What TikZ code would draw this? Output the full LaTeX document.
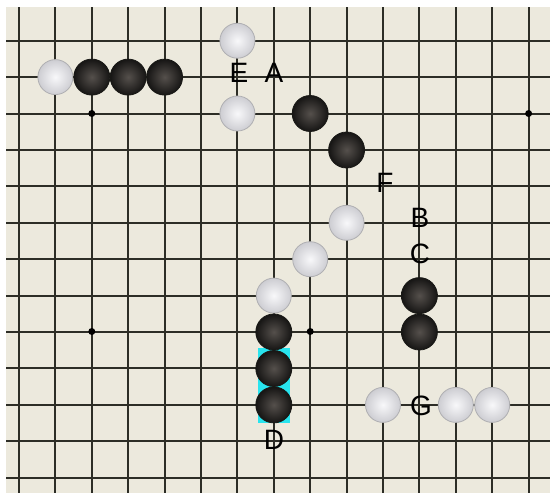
\documentclass[tikz,border=0pt]{standalone}
\usepackage{fontspec}
\setmainfont{Liberation Sans}
\definecolor{board}{RGB}{236,233,221}
\definecolor{gridc}{RGB}{45,45,38}
\definecolor{selc}{RGB}{40,228,238}
\begin{document}
\begin{tikzpicture}[x=1pt,y=-1pt,
  bstone/.style={circle,minimum size=36pt,inner sep=0pt,draw={rgb,255:red,25;green,25;blue,22},line width=0.8pt,
    inner color={rgb,255:red,85;green,80;blue,76},outer color={rgb,255:red,22;green,21;blue,20}},
  wstone/.style={circle,minimum size=35pt,inner sep=0pt,draw={rgb,255:red,175;green,175;blue,178},line width=0.8pt,
    inner color={rgb,255:red,248;green,248;blue,250},outer color={rgb,255:red,205;green,205;blue,210}},
  lbl/.style={inner sep=0pt,font=\fontsize{28}{30}\selectfont,text=black},
  star/.style={circle,fill=black,minimum size=7pt,inner sep=0pt},
  gline/.style={draw=gridc,line width=2pt}]
\useasboundingbox (0,0) rectangle (550,493);
\fill[white] (0,0) rectangle (550,493);
\fill[board] (6,7) rectangle (550,493);
% grid
\foreach \i in {0,...,14} {
  \draw[gline] ({19+36.4*\i},7) -- ({19+36.4*\i},493);
}
\foreach \j in {0,...,12} {
  \draw[gline] (6,{40.7+36.42*\j}) -- (550,{40.7+36.42*\j});
}
% star points
\node[star] (s1) at (91.8,113.5) {};
\node[star] (s2) at (528.6,113.5) {};
\node[star] (s3) at (91.8,331.5) {};
\node[star] (s4) at (310.2,331.5) {};
% selection
\fill[selc] (257.5,348) rectangle (290.1,423);
% stones: column i -> x=19+36.4 i, row j -> y=40.7+36.42 j
\node[wstone] (w1) at (55.4,77.1) {};
\node[bstone] (b1) at (91.8,77.1) {};
\node[bstone] (b2) at (128.2,77.1) {};
\node[bstone] (b3) at (164.6,77.1) {};
\node[wstone] (w2) at (237.4,40.7) {};
\node[wstone] (w3) at (237.4,113.5) {};
\node[bstone] (b4) at (310.2,113.5) {};
\node[bstone] (b5) at (346.6,150) {};
\node[wstone] (w4) at (346.6,222.8) {};
\node[wstone] (w5) at (310.2,259.2) {};
\node[wstone] (w6) at (273.8,295.6) {};
\node[bstone] (b6) at (273.8,332) {};
\node[bstone] (b7) at (273.8,368.5) {};
\node[bstone] (b8) at (273.8,404.9) {};
\node[bstone] (b9) at (419.4,295.6) {};
\node[bstone] (b10) at (419.4,332) {};
\node[wstone] (w7) at (383,404.9) {};
\node[wstone] (w8) at (455.8,404.9) {};
\node[wstone] (w9) at (492.2,404.9) {};
% labels
\node[lbl] (lE) at (239,73) {E};
\node[lbl] (lA) at (274,73) {A};
\node[lbl] (lF) at (385,183) {F};
\node[lbl] (lB) at (420,218) {B};
\node[lbl] (lC) at (420,254) {C};
\node[lbl] (lD) at (274,440) {D};
\node[lbl] (lG) at (421,406) {G};
\end{tikzpicture}
\end{document}
